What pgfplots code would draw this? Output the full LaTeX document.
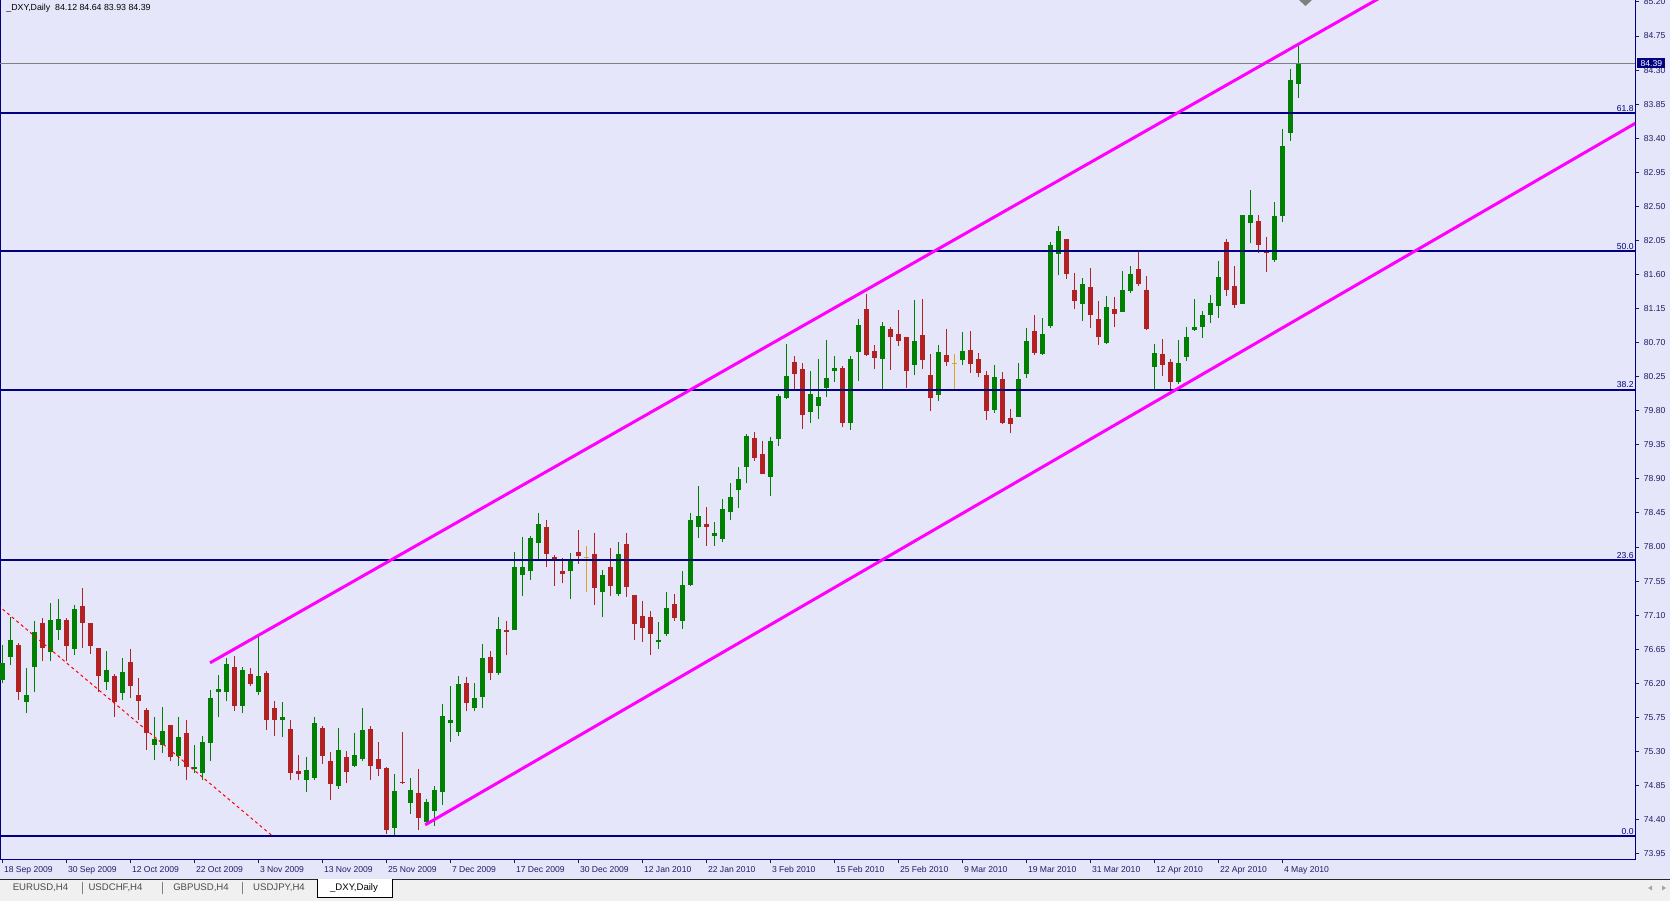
\documentclass[border=0pt]{standalone}
\usepackage{fontspec}
\setmainfont{Liberation Sans}
\usepackage{pgfplots}
\usepackage{pgfplotstable}
\pgfplotsset{compat=1.18}

\definecolor{chartbg}{RGB}{230,230,250}
\definecolor{bullc}{RGB}{0,128,0}
\definecolor{bearc}{RGB}{178,34,34}
\definecolor{dojic}{RGB}{218,165,32}
\definecolor{fibc}{RGB}{0,0,128}
\definecolor{axc}{RGB}{30,30,100}
\definecolor{tabbg}{RGB}{240,240,240}
\definecolor{chan}{RGB}{255,0,255}
\definecolor{trendc}{RGB}{255,0,0}

% daily bars, x = bar number from 18 Sep 2009
\pgfplotstableread{
x o h l c
0 76.25 76.71 76.20 76.47
1 76.55 77.08 76.44 76.77
3 75.95 76.40 75.81 76.05
4 76.41 77.02 76.08 76.88
6 76.62 77.26 76.49 77.04
7 76.91 77.32 76.77 77.05
9 76.65 77.24 76.58 77.18
13 76.22 76.63 76.11 76.38
15 76.07 76.54 75.98 76.35
19 75.39 75.75 75.19 75.46
20 75.39 75.89 75.28 75.57
22 75.24 75.75 75.11 75.49
24 75.07 75.39 75.01 75.09
25 75.02 75.51 74.92 75.43
26 75.41 76.11 75.18 76.00
27 76.08 76.31 75.75 76.12
28 76.08 76.53 75.96 76.45
30 75.90 76.41 75.81 76.38
32 76.09 76.82 76.05 76.30
35 75.71 75.95 75.49 75.75
38 74.92 75.23 74.76 75.06
39 74.95 75.76 74.92 75.67
42 74.84 75.61 74.81 75.32
44 75.11 75.54 75.09 75.25
45 75.20 75.87 75.18 75.58
49 74.29 75.00 74.18 74.78
51 74.62 74.95 74.48 74.79
53 74.37 74.67 74.35 74.63
54 74.51 74.84 74.31 74.79
55 74.76 75.93 74.59 75.77
56 75.68 76.17 75.43 75.72
57 75.56 76.30 75.50 76.19
59 75.87 76.21 75.84 76.01
60 76.02 76.72 75.88 76.53
62 76.34 77.07 76.31 76.92
64 76.91 77.94 76.90 77.74
65 77.63 78.13 77.35 77.73
66 77.68 78.14 77.57 78.12
67 78.05 78.45 77.84 78.31
71 77.68 77.92 77.32 77.83
75 77.40 77.70 77.07 77.63
77 77.38 78.07 77.35 77.91
82 76.74 77.01 76.65 76.77
83 76.85 77.41 76.83 77.20
85 77.02 77.68 76.92 77.50
86 77.50 78.45 77.49 78.36
87 78.27 78.81 78.12 78.41
89 78.15 78.33 78.02 78.18
90 78.11 78.63 78.07 78.50
91 78.46 78.85 78.36 78.66
92 78.75 79.06 78.52 78.90
93 79.06 79.49 78.84 79.47
96 78.93 79.46 78.67 79.40
97 79.43 80.02 79.34 79.99
98 79.97 80.68 79.96 80.26
101 79.78 80.32 79.64 80.02
102 79.86 80.49 79.69 79.98
103 80.10 80.74 79.98 80.23
104 80.32 80.52 80.18 80.37
106 79.64 80.52 79.55 80.49
107 80.57 81.01 80.19 80.93
110 80.49 80.97 80.08 80.92
114 80.40 81.26 80.27 80.72
117 80.01 80.67 79.93 80.57
120 80.47 80.84 80.40 80.59
124 79.81 80.40 79.77 80.25
127 79.72 80.43 79.72 80.22
128 80.28 80.89 80.23 80.72
130 80.55 81.02 80.53 80.82
131 80.92 82.03 80.89 81.99
132 81.87 82.24 81.59 82.17
135 81.21 81.55 80.99 81.47
138 80.70 81.31 80.68 81.17
140 81.10 81.65 81.10 81.40
141 81.38 81.71 81.35 81.61
144 80.38 80.68 80.08 80.56
147 80.18 80.74 80.15 80.43
148 80.51 80.91 80.46 80.78
149 80.87 81.28 80.86 80.90
150 80.91 81.12 80.76 81.06
151 81.07 81.33 80.96 81.23
152 81.18 81.78 81.03 81.57
155 81.21 82.39 81.21 82.39
156 82.28 82.72 82.01 82.39
159 81.79 82.56 81.77 82.37
160 82.37 83.52 82.29 83.30
161 83.47 84.32 83.37 84.17
162 84.12 84.64 83.93 84.39
}\bull

\pgfplotstableread{
x o h l c
2 76.71 76.73 75.98 76.08
5 76.99 77.06 76.49 76.66
8 77.04 77.06 76.49 76.69
10 77.22 77.46 76.66 77.00
11 76.99 76.99 76.59 76.69
12 76.66 76.66 76.08 76.29
14 76.29 76.32 75.76 75.95
16 76.48 76.65 76.00 76.16
17 76.05 76.27 75.72 75.96
18 75.85 75.87 75.32 75.54
21 75.65 75.65 75.17 75.23
23 75.55 75.71 74.92 75.09
29 76.41 76.56 75.84 75.90
31 76.32 76.40 76.16 76.19
33 76.33 76.36 75.58 75.71
34 75.87 75.97 75.50 75.72
36 75.60 75.71 74.92 75.02
37 75.04 75.25 74.92 75.00
40 75.61 75.64 75.14 75.24
41 75.17 75.29 74.66 74.87
43 75.22 75.31 74.88 75.03
46 75.59 75.63 74.92 75.11
47 75.20 75.43 74.98 75.07
48 75.08 75.10 74.21 74.26
50 74.90 75.56 74.87 74.88
52 74.75 75.07 74.26 74.42
58 76.21 76.28 75.83 75.94
61 76.55 76.63 76.24 76.33
63 76.90 77.02 76.57 76.88
68 78.27 78.36 77.73 77.91
69 77.87 77.90 77.49 77.83
70 77.68 77.86 77.52 77.64
72 77.94 78.22 77.78 77.88
74 77.91 78.19 77.24 77.46
76 77.74 77.99 77.35 77.49
78 78.04 78.19 77.34 77.47
79 77.37 77.37 76.77 76.98
80 77.09 77.29 76.74 76.93
81 77.08 77.15 76.58 76.85
84 77.25 77.38 77.02 77.06
88 78.30 78.53 78.02 78.27
94 79.44 79.52 79.14 79.18
95 79.23 79.40 78.96 78.97
99 80.44 80.52 80.08 80.29
100 80.35 80.43 79.56 79.75
105 80.37 80.39 79.58 79.64
108 81.15 81.34 80.52 80.54
109 80.59 80.67 80.35 80.50
111 80.88 80.90 80.34 80.77
112 80.82 81.13 80.65 80.72
113 80.77 80.78 80.10 80.32
115 80.80 81.28 80.35 80.47
116 80.27 80.55 79.80 79.97
118 80.54 80.88 80.39 80.44
121 80.60 80.85 80.30 80.42
122 80.48 80.56 80.24 80.30
123 80.27 80.33 79.68 79.80
125 80.22 80.31 79.62 79.64
126 79.71 79.82 79.50 79.63
129 80.85 81.07 80.53 80.56
133 82.07 82.07 81.54 81.61
134 81.40 81.62 81.14 81.25
136 81.43 81.68 80.89 81.06
137 81.01 81.25 80.67 80.77
139 81.14 81.30 80.91 81.08
142 81.67 81.92 81.45 81.47
143 81.40 81.58 80.87 80.88
145 80.55 80.75 80.26 80.41
146 80.44 80.48 80.03 80.18
153 82.03 82.07 81.32 81.39
154 81.45 81.71 81.16 81.20
157 82.31 82.39 81.88 81.99
158 81.90 82.10 81.63 81.88
}\bear

\pgfplotstableread{
x o h l c
73 77.86 78.01 77.40 77.86
119 80.42 80.55 80.07 80.42
}\doji

\begin{document}
\begin{tikzpicture}[font=\fontsize{4.3}{5}\selectfont]
\useasboundingbox (0,0) rectangle (835pt,450.5pt);
\fill[chartbg] (0,0) rectangle (835pt,450.5pt);
\fill[tabbg] (0,0) rectangle (835pt,11pt);
\draw[black!85, line width=0.5pt] (0,11pt) -- (835pt,11pt);

\begin{axis}[
  at={(0pt,450.5pt)}, anchor=north west,
  scale only axis, width=817.5pt, height=429.5pt,
  xmin=-0.25, xmax=204.125, ymin=73.879, ymax=85.226,
  axis line style={fibc, line width=0.5pt},
  tick align=outside, major tick length=2.2pt,
  tick style={axc, line width=0.5pt},
  xtick pos=bottom, ytick pos=right, yticklabel pos=right,
  xtick={0,8,...,160},
  xticklabels={18 Sep 2009, 30 Sep 2009, 12 Oct 2009, 22 Oct 2009, 3 Nov 2009, 13 Nov 2009, 25 Nov 2009, 7 Dec 2009, 17 Dec 2009, 30 Dec 2009, 12 Jan 2010, 22 Jan 2010, 3 Feb 2010, 15 Feb 2010, 25 Feb 2010, 9 Mar 2010, 19 Mar 2010, 31 Mar 2010, 12 Apr 2010, 22 Apr 2010, 4 May 2010},
  xticklabel style={anchor=north west, inner sep=0pt, text height=3.2pt, text depth=0.9pt,
    xshift=0.8pt, yshift=-1pt, text=axc},
  ytick={73.95,74.40,74.85,75.30,75.75,76.20,76.65,77.10,77.55,78.00,78.45,78.90,79.35,79.80,80.25,80.70,81.15,81.60,82.05,82.50,82.95,83.40,83.85,84.30,84.75,85.20},
  /pgf/number format/assume math mode=true,
  yticklabel style={anchor=west, inner sep=0pt, xshift=2pt, text=axc,
    /pgf/number format/fixed, /pgf/number format/fixed zerofill,
    /pgf/number format/precision=2},
]
% wicks and bodies
\addplot[draw=none, mark=none, forget plot, error bars/.cd, y dir=plus, y explicit,
  error mark=none, error bar style={draw=bullc, line width=0.5pt}]
  table[x=x, y=l, y error expr=\thisrow{h}-\thisrow{l}] {\bull};
\addplot[draw=none, mark=none, forget plot, error bars/.cd, y dir=plus, y explicit,
  error mark=none, error bar style={draw=bullc, line width=2.5pt}]
  table[x=x, y=o, y error expr=\thisrow{c}-\thisrow{o}] {\bull};
\addplot[draw=none, mark=none, forget plot, error bars/.cd, y dir=plus, y explicit,
  error mark=none, error bar style={draw=bearc, line width=0.5pt}]
  table[x=x, y=l, y error expr=\thisrow{h}-\thisrow{l}] {\bear};
\addplot[draw=none, mark=none, forget plot, error bars/.cd, y dir=plus, y explicit,
  error mark=none, error bar style={draw=bearc, line width=2.5pt}]
  table[x=x, y=c, y error expr=\thisrow{o}-\thisrow{c}] {\bear};
\addplot[draw=none, mark=none, forget plot, error bars/.cd, y dir=plus, y explicit,
  error mark=none, error bar style={draw=dojic, line width=0.5pt}]
  table[x=x, y=l, y error expr=\thisrow{h}-\thisrow{l}] {\doji};
\addplot[only marks, mark=-, mark size=1.25pt, dojic, mark options={line width=0.5pt}]
  table[x=x, y=o] {\doji};

% fibonacci levels
\addplot[fibc, line width=1pt] coordinates {(-0.25,74.18) (204.125,74.18)};
\addplot[fibc, line width=1pt] coordinates {(-0.25,77.83) (204.125,77.83)};
\addplot[fibc, line width=1pt] coordinates {(-0.25,80.08) (204.125,80.08)};
\addplot[fibc, line width=1pt] coordinates {(-0.25,81.91) (204.125,81.91)};
\addplot[fibc, line width=1pt] coordinates {(-0.25,83.73) (204.125,83.73)};
% last price
\addplot[gray, line width=0.5pt] coordinates {(-0.25,84.39) (204.125,84.39)};
% trend lines
\addplot[trendc, line width=0.5pt, dash pattern=on 1.5pt off 1.5pt] coordinates {(-0.5,77.23) (33.84,74.18)};
\addplot[chan, line width=1.5pt] coordinates {(26.0,76.47) (174,85.36)};
\addplot[chan, line width=1.5pt] coordinates {(52.9,74.33) (206,83.71)};

\coordinate (f0) at (axis cs:204.125,74.18);
\coordinate (f236) at (axis cs:204.125,77.83);
\coordinate (f382) at (axis cs:204.125,80.08);
\coordinate (f50) at (axis cs:204.125,81.91);
\coordinate (f618) at (axis cs:204.125,83.73);
\coordinate (cur) at (axis cs:204.125,84.39);
\end{axis}

\foreach \c/\t in {f0/0.0, f236/23.6, f382/38.2, f50/50.0, f618/61.8}
  \node[anchor=south east, inner sep=0pt, text=fibc, yshift=0.7pt, xshift=-0.5pt] at (\c) {\t};
\node[anchor=west, fill=fibc, text=white, inner xsep=1.6pt, inner ysep=0.6pt, minimum height=4.8pt, xshift=1pt] at (cur) {84.39};

\node[anchor=west, inner sep=0pt, font=\fontsize{4.4}{5}\selectfont] at (3pt,446.5pt) {\_DXY,Daily\ \ 84.12 84.64 83.93 84.39};
\fill[gray] (649.5pt,450.5pt) -- (656pt,450.5pt) -- (652.75pt,447.5pt) -- cycle;

% tab bar
\filldraw[fill=white, draw=black, line width=0.5pt] (158.5pt,11pt) -- (158.5pt,2pt) -- (196pt,2pt) -- (196pt,11pt);
\begin{scope}[font=\fontsize{4.8}{5}\selectfont]
\node[text=black!70] at (20.25pt,6.5pt) {EURUSD,H4};
\node[text=black!70] at (57.75pt,6.5pt) {USDCHF,H4};
\node[text=black!70] at (100.5pt,6.5pt) {GBPUSD,H4};
\node[text=black!70] at (139.5pt,6.5pt) {USDJPY,H4};
\node[text=black] at (177pt,6.5pt) {\_DXY,Daily};
\end{scope}
\foreach \s in {41,81,121}
  \draw[gray, line width=0.4pt] (\s pt,3.5pt) -- (\s pt,9.5pt);
\fill[gray!70] (824pt,6.5pt) -- (826pt,7.7pt) -- (826pt,5.3pt) -- cycle;
\fill[gray!70] (833pt,6.5pt) -- (831pt,7.7pt) -- (831pt,5.3pt) -- cycle;
\end{tikzpicture}
\end{document}
